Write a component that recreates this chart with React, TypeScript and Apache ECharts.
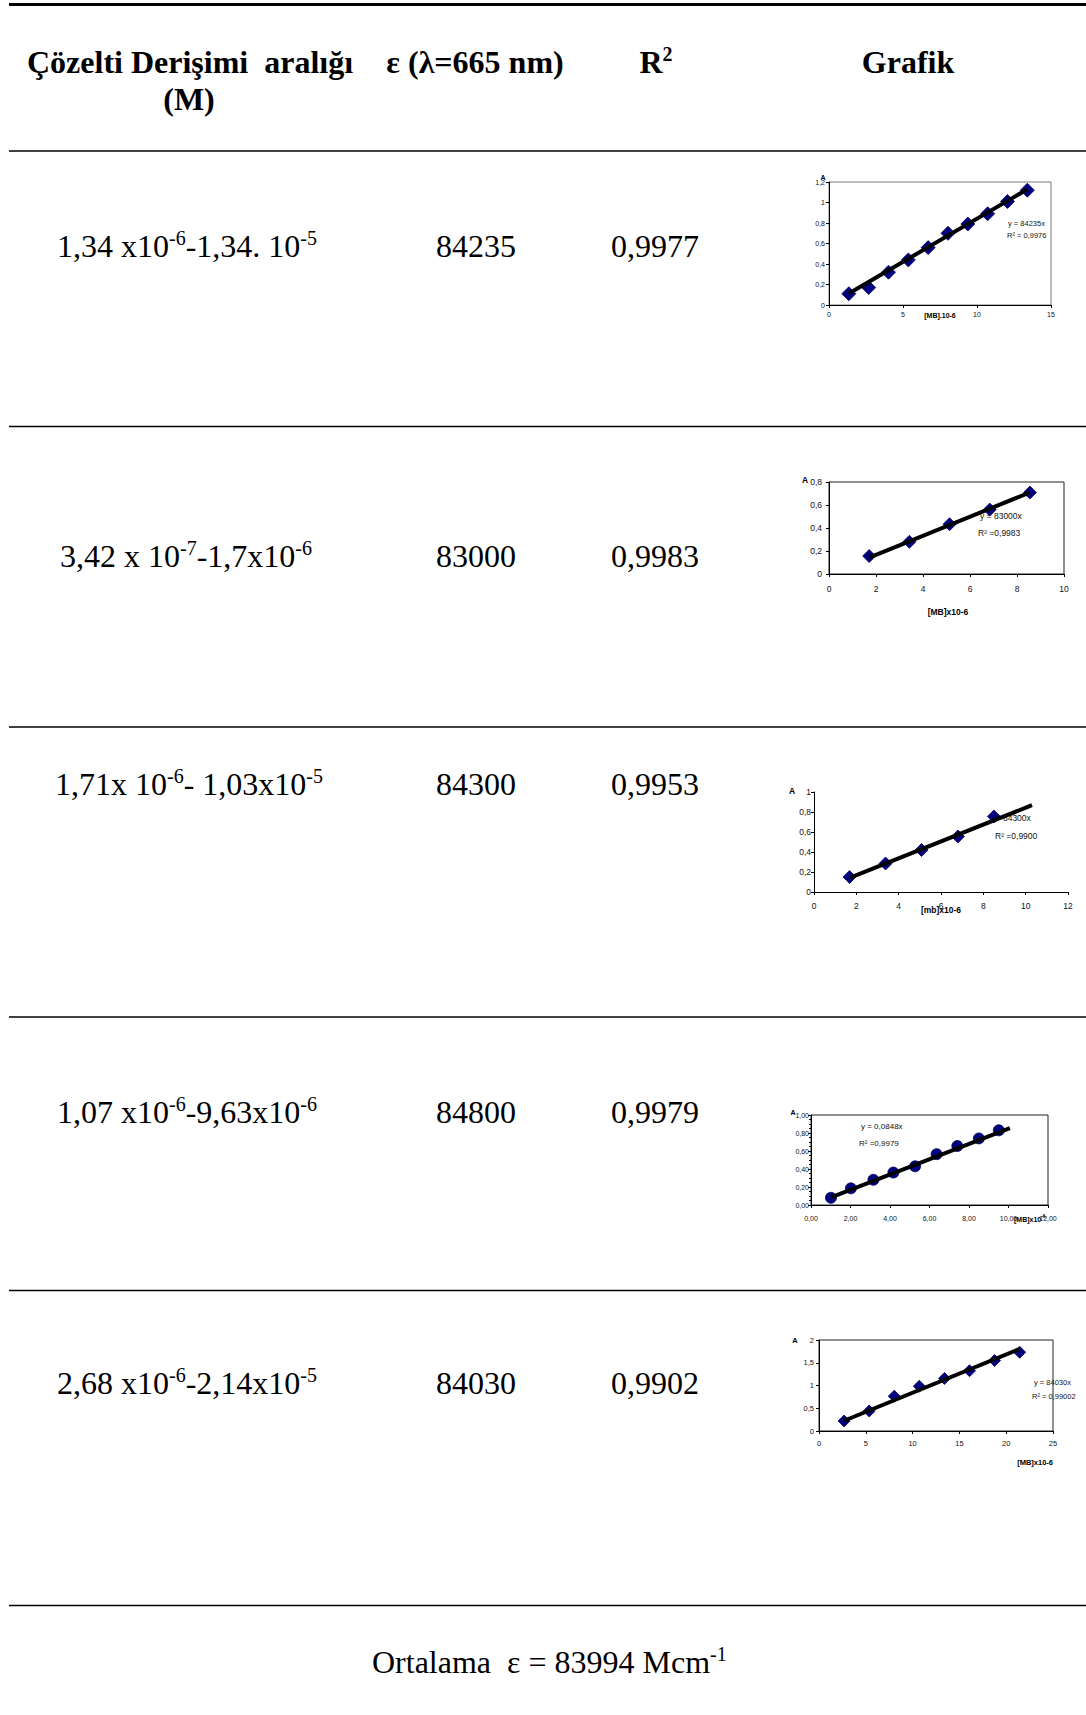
import React, { useEffect, useRef } from "react";
import * as echarts from "echarts";

// ---- Table content ----
const headerRange = "Çözelti Derişimi  aralığı";
const headerUnit = "(M)";
const headerEpsilon = "ε (λ=665 nm)";
const headerGraph = "Grafik";

// concentration ranges: [base, exponent, base, exponent]
const rangeParts = [
  ["1,34 x10", "-6", "-1,34. 10", "-5"],
  ["3,42 x 10", "-7", "-1,7x10", "-6"],
  ["1,71x 10", "-6", "- 1,03x10", "-5"],
  ["1,07 x10", "-6", "-9,63x10", "-6"],
  ["2,68 x10", "-6", "-2,14x10", "-5"],
];
const epsilonValues = ["84235", "83000", "84300", "84800", "84030"];
const r2Values = ["0,9977", "0,9983", "0,9953", "0,9979", "0,9902"];
const meanEpsilon = "83994";

// ---- Calibration data (concentration x10^-6 M, absorbance) ----
const conc1 = [1.34, 2.68, 4.02, 5.36, 6.7, 8.04, 9.38, 10.72, 12.06, 13.4];
const abs1 = [0.11, 0.17, 0.32, 0.44, 0.56, 0.7, 0.79, 0.89, 1.01, 1.12];
const conc2 = [1.71, 3.42, 5.13, 6.84, 8.55];
const abs2 = [0.156, 0.28, 0.433, 0.56, 0.708];
const conc3 = [1.68, 3.38, 5.08, 6.8, 8.5];
const abs3 = [0.15, 0.285, 0.42, 0.555, 0.755];
const conc4 = [1.01, 2.02, 3.16, 4.17, 5.27, 6.36, 7.41, 8.5, 9.51];
const abs4 = [0.08, 0.185, 0.28, 0.36, 0.43, 0.565, 0.655, 0.74, 0.83];
const conc5 = [2.68, 5.36, 8.04, 10.72, 13.4, 16.08, 18.76, 21.44];
const abs5 = [0.22, 0.44, 0.765, 0.985, 1.155, 1.325, 1.55, 1.73];

// linear fits through the origin: slope and drawn x-extent
const fitSlopes = [0.084235, 0.083, 0.0843, 0.0848, 0.08403];
const fitRanges = [
  [1.34, 13.4],
  [1.71, 8.55],
  [1.71, 10.3],
  [1.01, 10.07],
  [2.68, 21.44],
];
const fitEquations = ["y = 84235x", "y = 83000x", "y = 84300x", "y = 0,0848x", "y = 84030x"];
const fitR2Labels = ["R² = 0,9976", "R² =0,9983", "R² =0,9900", "R² =0,9979", "R² = 0,99002"];
const xAxisTitles = ["[MB].10-6", "[MB]x10-6", "[mb]x10-6", "[MB]x10", "[MB]x10-6"];

const concentrations = [conc1, conc2, conc3, conc4, conc5];
const absorbances = [abs1, abs2, abs3, abs4, abs5];

// ---- Layout ----
const SERIF = '"Liberation Serif", "Times New Roman", serif';
const SANS = '"Liberation Sans", Arial, sans-serif';
const W = 1086;
const H = 1715;

const ruleYs = [151, 426.5, 727, 1017, 1290.5, 1605.5];
const rowBaselines = [257, 567, 795, 1123, 1394];
const rowStarts = [57, 60, 55, 57, 57];
const epsCenterX = 476;
const r2CenterX = 655;

const panels = [
  { left: 829, top: 182, width: 222, height: 123, xMax: 15, xStep: 5, yMax: 1.2, yStep: 0.2, digits: -1, symbol: "diamond", size: 14, fs: 7, nfs: 7.5, xMargin: 6, yMargin: 4, border: "#777",
    eq: [1008, 223], r2: [1007, 235], a: [823, 177], title: { x: 940, y: 315, align: "center" } },
  { left: 829, top: 482, width: 235, height: 92, xMax: 10, xStep: 2, yMax: 0.8, yStep: 0.2, digits: -1, symbol: "diamond", size: 13, fs: 8.5, nfs: 8.5, xMargin: 10, yMargin: 7, border: "#222",
    eq: [980, 516], r2: [978, 533], a: [805, 480], title: { x: 948, y: 612, align: "center" } },
  { left: 814, top: 792, width: 254, height: 100, xMax: 12, xStep: 2, yMax: 1, yStep: 0.2, digits: -1, symbol: "diamond", size: 13, fs: 8.5, nfs: 8.5, xMargin: 9, yMargin: 3, border: null,
    eq: [989, 818], r2: [995, 836], a: [792, 791], title: { x: 941, y: 910, align: "center" } },
  { left: 811, top: 1115, width: 237, height: 90, xMax: 12, xStep: 2, yMax: 1, yStep: 0.2, digits: 2, symbol: "circle", size: 11, fs: 7, nfs: 8, xMargin: 10, yMargin: 2, border: "#222",
    eq: [861, 1126], r2: [859, 1143], a: [793, 1112], title: { x: 1014, y: 1219, align: "left" } },
  { left: 819, top: 1340, width: 234, height: 91, xMax: 25, xStep: 5, yMax: 2, yStep: 0.5, digits: -1, symbol: "diamond", size: 12, fs: 7.5, nfs: 7.5, xMargin: 8, yMargin: 5, border: "#222",
    eq: [1034, 1382], r2: [1032, 1396], a: [795, 1340], title: { x: 1053, y: 1462, align: "right" } },
];

const commaFormat = (digits: number) => (v: number) =>
  (digits >= 0 ? v.toFixed(digits) : String(Math.round(v * 100) / 100)).replace(".", ",");

// baseline -> middle for 32px serif
const mid = (baseline: number) => baseline - 10.8;

const supRich = (weight: string) => ({
  m: { font: `${weight} 32px ${SERIF}`, lineHeight: 36, fill: "#000" },
  s: { font: `${weight} 20px ${SERIF}`, lineHeight: 18, verticalAlign: "top", fill: "#000" },
});

function text(x: number, y: number, t: string, font: string, align = "left", extra: any = {}) {
  return {
    type: "text",
    x,
    y,
    z: 0,
    silent: true,
    style: { text: t, font, fill: "#000", textAlign: align, textVerticalAlign: "middle", ...extra },
  };
}

function buildOption() {
  const graphic: any[] = [];

  // table rules
  graphic.push({ type: "line", shape: { x1: 9, y1: 4.5, x2: W, y2: 4.5 }, style: { stroke: "#000", lineWidth: 3 } });
  ruleYs.forEach((y) =>
    graphic.push({ type: "line", shape: { x1: 9, y1: y, x2: W, y2: y }, style: { stroke: "#000", lineWidth: 1.5 } })
  );

  // header
  const hb = `bold 32px ${SERIF}`;
  graphic.push(text(27, mid(73), headerRange, hb));
  graphic.push(text(189, mid(110), headerUnit, hb, "center"));
  graphic.push(text(475, mid(73), headerEpsilon, hb, "center"));
  graphic.push(text(656, mid(73), "{m|R}{s|2}", hb, "center", { rich: supRich("bold") }));
  graphic.push(text(908, mid(73), headerGraph, hb, "center"));

  // rows
  const rg = `32px ${SERIF}`;
  rangeParts.forEach((p, i) => {
    const b = rowBaselines[i];
    graphic.push(
      text(rowStarts[i], mid(b), `{m|${p[0]}}{s|${p[1]}}{m|${p[2]}}{s|${p[3]}}`, rg, "left", { rich: supRich("normal") })
    );
    graphic.push(text(epsCenterX, mid(b), epsilonValues[i], rg, "center"));
    graphic.push(text(r2CenterX, mid(b), r2Values[i], rg, "center"));
  });

  // footer
  graphic.push(
    text(372, mid(1673), `{m|Ortalama  ε = ${meanEpsilon} Mcm}{s|-1}`, rg, "left", { rich: supRich("normal") })
  );

  // chart annotations
  panels.forEach((p, i) => {
    const f = `${p.nfs}px ${SANS}`;
    const fb = `bold ${p.fs}px ${SANS}`;
    graphic.push(text(p.eq[0], p.eq[1], fitEquations[i], f, "left", { fill: "#111" }));
    graphic.push(text(p.r2[0], p.r2[1], fitR2Labels[i], f, "left", { fill: "#111" }));
    graphic.push(text(p.a[0], p.a[1], "A", fb, "center"));
    if (i === 3) {
      graphic.push(
        text(p.title.x, p.title.y, `{b|${xAxisTitles[i]}}{t|-6}`, fb, p.title.align, {
          rich: {
            b: { font: fb, lineHeight: 10 },
            t: { font: `bold ${p.fs * 0.7}px ${SANS}`, lineHeight: 5, verticalAlign: "top" },
          },
        })
      );
    } else {
      graphic.push(text(p.title.x, p.title.y, xAxisTitles[i], fb, p.title.align));
    }
  });

  const grid = panels.map((p) => ({
    left: p.left,
    top: p.top,
    width: p.width,
    height: p.height,
    show: !!p.border,
    borderColor: p.border || "transparent",
    borderWidth: 1,
    backgroundColor: "transparent",
    containLabel: false,
    outerBoundsMode: "none",
  }));

  const axisCommon = () => ({
    type: "value",
    min: 0,
    axisLine: { show: true, onZero: false, lineStyle: { color: "#000", width: 1 } },
    axisTick: { show: true, inside: false, length: 3, lineStyle: { color: "#000", width: 1 } },
    splitLine: { show: false },
  });

  const xAxis = panels.map((p, i) => ({
    ...axisCommon(),
    gridIndex: i,
    max: p.xMax,
    interval: p.xStep,
    axisLabel: {
      fontSize: p.fs,
      fontFamily: SANS,
      color: "#111",
      margin: p.xMargin,
      formatter: commaFormat(p.digits),
    },
  }));

  const yAxis = panels.map((p, i) => ({
    ...axisCommon(),
    gridIndex: i,
    max: p.yMax,
    interval: p.yStep,
    minorTick: i === 3 ? { show: true, splitNumber: 4, length: 2, lineStyle: { color: "#000" } } : { show: false },
    axisLabel: {
      fontSize: p.fs,
      fontFamily: SANS,
      color: "#111",
      margin: p.yMargin,
      formatter: commaFormat(p.digits),
    },
  }));

  const series: any[] = [];
  panels.forEach((p, i) => {
    series.push({
      type: "scatter",
      xAxisIndex: i,
      yAxisIndex: i,
      symbol: p.symbol,
      symbolSize: p.size,
      z: 2,
      itemStyle: { color: "#000080", borderColor: "#00005a", borderWidth: 0.8, opacity: 1 },
      data: concentrations[i].map((c, k) => [c, absorbances[i][k]]),
    });
  });
  panels.forEach((p, i) => {
    const [x0, x1] = fitRanges[i];
    series.push({
      type: "line",
      xAxisIndex: i,
      yAxisIndex: i,
      symbol: "none",
      z: 3,
      lineStyle: { color: "#000", width: 4 },
      data: [
        [x0, fitSlopes[i] * x0],
        [x1, fitSlopes[i] * x1],
      ],
    });
  });

  return { animation: false, backgroundColor: "#fff", grid, xAxis, yAxis, series, graphic };
}

export default function App() {
  const ref = useRef<HTMLDivElement>(null);
  useEffect(() => {
    if (!ref.current) return;
    const chart = echarts.init(ref.current, undefined, { renderer: "svg" });
    chart.setOption(buildOption() as any);
    return () => chart.dispose();
  }, []);
  return (
    <div
      ref={ref}
      style={{ position: "absolute", left: 0, top: 0, width: W, height: H, background: "#fff" }}
    />
  );
}
